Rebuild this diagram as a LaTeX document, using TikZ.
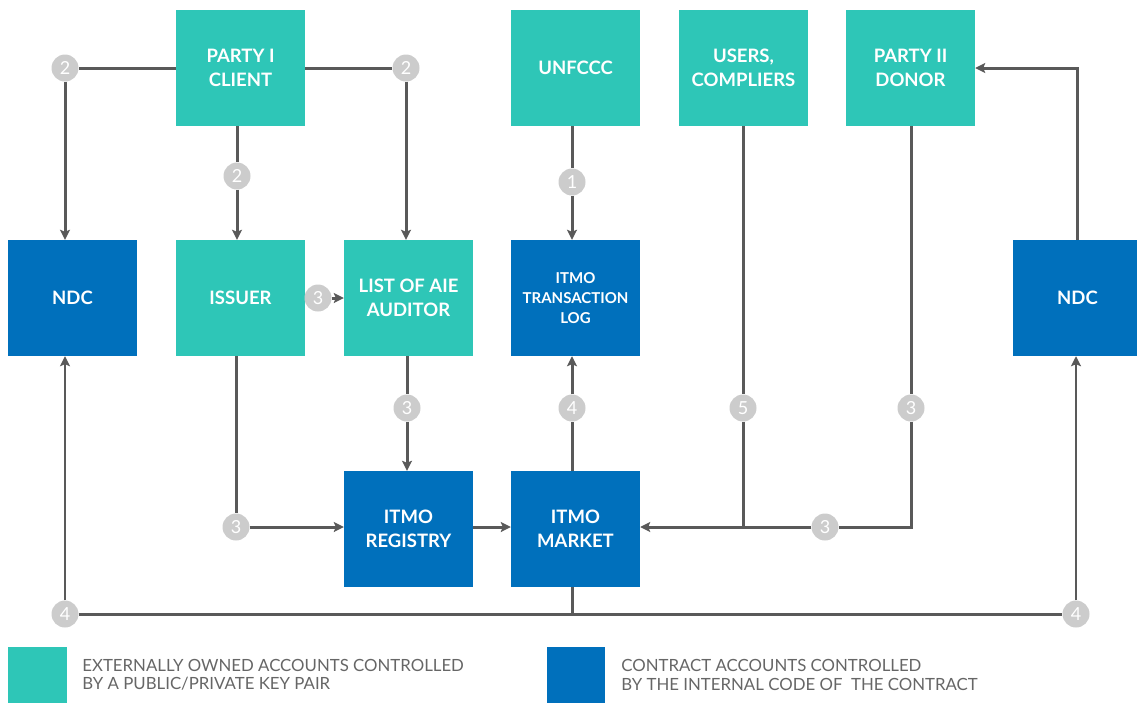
\documentclass[tikz,border=0pt]{standalone}
\usepackage{fontspec}
\setmainfont{Lato}
\usetikzlibrary{arrows.meta,positioning}

\definecolor{extcol}{HTML}{2EC6B7}
\definecolor{ctrcol}{HTML}{0070BC}
\definecolor{badgecol}{HTML}{CCCCCC}
\definecolor{linecol}{HTML}{595959}
\definecolor{keytext}{HTML}{666666}

\begin{document}
\begin{tikzpicture}
  [x=1pt,y=-1pt,
   acct/.style={minimum width=129pt,minimum height=116pt,inner sep=0pt,align=center,text=white,
     font=\bfseries\fontsize{18.5}{24}\selectfont},
   extacct/.style={acct,fill=extcol},
   ctracct/.style={acct,fill=ctrcol},
   badge/.style={circle,fill=badgecol,text=white,minimum size=27pt,inner sep=0pt,
     font=\fontsize{18}{18}\selectfont},
   link/.style={draw=linecol,line width=3pt},
   flow/.style={link,-{Stealth[length=10pt,width=10pt,inset=2pt]}},
   thinflow/.style={flow,line width=2pt},
   keybox/.style={minimum width=59pt,minimum height=56pt,inner sep=0pt},
   keylabel/.style={align=left,inner sep=0pt,text=keytext,font=\fontsize{16.8}{18.5}\selectfont}]

  \useasboundingbox (0,0) rectangle (1137,702);

  % accounts
  \node[extacct] (party1) at (240.5,68) {PARTY I\\CLIENT};
  \node[extacct] (unfccc) at (575.5,68) {UNFCCC};
  \node[extacct] (users) at (743.5,68) {USERS,\\COMPLIERS};
  \node[extacct] (party2) at (910.5,68) {PARTY II\\DONOR};
  \node[ctracct] (ndcl) at (72.5,298) {NDC};
  \node[extacct] (issuer) at (240.5,298) {ISSUER};
  \node[extacct] (auditor) at (408.5,298) {LIST OF AIE\\AUDITOR};
  \node[ctracct,font=\bfseries\fontsize{15}{20}\selectfont] (txlog) at (575.5,298) {ITMO\\TRANSACTION\\LOG};
  \node[ctracct] (ndcr) at (1077.5,298) {NDC};
  \node[ctracct] (registry) at (408.5,529) {ITMO\\REGISTRY};
  \node[ctracct] (market) at (575.5,529) {ITMO\\MARKET};

  % steps
  \node[badge] (b2l) at (65,68) {2};
  \node[badge] (b2r) at (406,68) {2};
  \node[badge] (b2c) at (237,176) {2};
  \node[badge] (b3i) at (318,298) {3};
  \node[badge] (b3a) at (407,408) {3};
  \node[badge] (b3r) at (236,527) {3};
  \node[badge] (b1) at (572,182) {1};
  \node[badge] (b4m) at (572,408) {4};
  \node[badge] (b5) at (743,408) {5};
  \node[badge] (b3p) at (911,408) {3};
  \node[badge] (b3h) at (825,527) {3};
  \node[badge] (b4l) at (65,614) {4};
  \node[badge] (b4r) at (1076,614) {4};

  \coordinate (jusers) at (743,527);
  \coordinate (jparty) at (911,527);
  \coordinate (jmarket) at (572,614);
  \coordinate (jndcr) at (1077,68);

  \draw[link] (party1) -- (b2l);
  \draw[flow] (b2l) -- (b2l |- ndcl.north);
  \draw[link] (party1) -- (b2r);
  \draw[flow] (b2r) -- (b2r |- auditor.north);
  \draw[link] (party1.south -| b2c) -- (b2c);
  \draw[flow] (b2c) -- (b2c |- issuer.north);
  \draw[flow] (b3i) -- (auditor);
  \draw[link] (auditor.south -| b3a) -- (b3a);
  \draw[flow] (b3a) -- (b3a |- registry.north);
  \draw[link] (issuer.south -| b3r) -- (b3r);
  \draw[flow] (b3r) -- (b3r -| registry.west);
  \draw[flow] (registry.east |- b3r) -- (market.west |- b3r);
  \draw[link] (market.north -| b4m) -- (b4m);
  \draw[flow] (b4m) -- (b4m |- txlog.south);
  \draw[link] (unfccc.south -| b1) -- (b1);
  \draw[flow] (b1) -- (b1 |- txlog.north);
  \draw[link] (users.south -| b5) -- (b5);
  \draw[flow] (b5) -- (jusers) -- (jusers -| market.east);
  \draw[link] (party2.south -| b3p) -- (b3p);
  \draw[link] (b3p) -- (jparty) -- (b3h);
  \draw[link] (b3h) -- (jusers);
  \draw[link] (market.south -| jmarket) -- (jmarket);
  \draw[link] (b4l) -- (b4r);
  \draw[thinflow] (b4l) -- (b4l |- ndcl.south);
  \draw[thinflow] (b4r) -- (b4r |- ndcr.south);
  \draw[flow] (ndcr.north -| jndcr) -- (jndcr) -- (jndcr -| party2.east);

  % key
  \node[keybox,fill=extcol] (keyext) at (37.5,675) {};
  \node[keylabel,right=15pt of keyext] (keyexttext) {EXTERNALLY OWNED ACCOUNTS CONTROLLED\\BY A PUBLIC/PRIVATE KEY PAIR};
  \node[keybox,fill=ctrcol,minimum width=58pt] (keyctr) at (576,675) {};
  \node[keylabel,right=16pt of keyctr] (keyctrtext) {CONTRACT ACCOUNTS CONTROLLED\\BY THE INTERNAL CODE OF\ \ THE CONTRACT};
\end{tikzpicture}
\end{document}
